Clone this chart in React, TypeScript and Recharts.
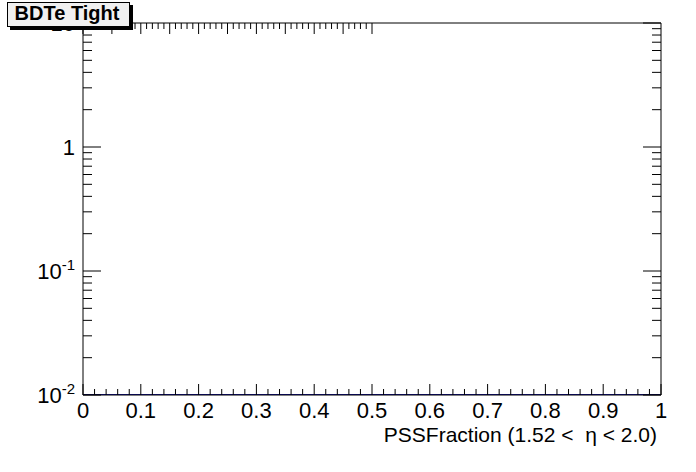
import { Line, LineChart, XAxis, YAxis } from "recharts";

// ROOT-style empty histogram: log y, x in [0, 1]
const binEdges = [0, 0.5, 1];
const binContents = [0.01, 0.01, 0.01]; // empty bins drawn at the log-axis floor

const xMajorTicks = [0, 0.1, 0.2, 0.3, 0.4, 0.5, 0.6, 0.7, 0.8, 0.9, 1];
const xMinorTicks = [
  0.02, 0.04, 0.06, 0.08, 0.12, 0.14, 0.16, 0.18, 0.22, 0.24, 0.26, 0.28,
  0.32, 0.34, 0.36, 0.38, 0.42, 0.44, 0.46, 0.48, 0.52, 0.54, 0.56, 0.58,
  0.62, 0.64, 0.66, 0.68, 0.72, 0.74, 0.76, 0.78, 0.82, 0.84, 0.86, 0.88,
  0.92, 0.94, 0.96, 0.98,
];
const yMajorTicks = [0.01, 0.1, 1, 10];
const yMinorTicks = [
  0.02, 0.03, 0.04, 0.05, 0.06, 0.07, 0.08, 0.09, 0.2, 0.3, 0.4, 0.5, 0.6,
  0.7, 0.8, 0.9, 2, 3, 4, 5, 6, 7, 8, 9,
];
const yLabels: Record<string, [string, string]> = {
  "0.01": ["10", "-2"],
  "0.1": ["10", "-1"],
  "1": ["1", ""],
  "10": ["10", ""],
};

const TITLE = "BDTe Tight";
const X_TITLE = "PSSFraction (1.52 <  \u03b7 < 2.0)";

const FONT = "'Liberation Sans', Arial, Helvetica, sans-serif";
const HIST_COLOR = "#10109a";

const W = 696;
const H = 472;
// axes are 1px thick, so the frame ends up at 83..661 x 23..395
const M = { top: 22, right: 34, bottom: 76, left: 82 };

const domainX: [number, number] = [0, 1];
const domainY: [number, number] = [0.01, 10];

const xTicks = [...xMajorTicks, ...xMinorTicks].sort((a, b) => a - b);
const yTicks = [...yMajorTicks, ...yMinorTicks].sort((a, b) => a - b);
const isMajorX = (v: number) => xMajorTicks.includes(v);
const isMajorY = (v: number) => yMajorTicks.includes(v);

// tick renderers: ticks point into the frame, ROOT style
const bottomTick = (p: any) => {
  const major = isMajorX(p.payload.value);
  return (
    <g>
      <line x1={p.x} x2={p.x} y1={p.y} y2={p.y - (major ? 11 : 6)} stroke="#000" />
      {major && (
        <text
          x={p.x}
          y={p.y + 23}
          textAnchor="middle"
          fontFamily={FONT}
          fontSize={22}
          fill="#000"
        >
          {p.payload.value}
        </text>
      )}
    </g>
  );
};

const topTick = (p: any) => {
  const major = isMajorX(p.payload.value);
  return <line x1={p.x} x2={p.x} y1={p.y} y2={p.y + (major ? 11 : 6)} stroke="#000" />;
};

const leftTick = (p: any) => {
  const major = isMajorY(p.payload.value);
  const lab = yLabels[String(p.payload.value)];
  return (
    <g>
      <line x1={p.x} x2={p.x + (major ? 18 : 9)} y1={p.y} y2={p.y} stroke="#000" />
      {major && lab && (
        <text
          x={p.x - 8}
          y={p.y + 8}
          textAnchor="end"
          fontFamily={FONT}
          fontSize={22}
          fill="#000"
        >
          {lab[0]}
          {lab[1] && (
            <tspan dy={-9} fontSize={15}>
              {lab[1]}
            </tspan>
          )}
        </text>
      )}
    </g>
  );
};

const rightTick = (p: any) => {
  const major = isMajorY(p.payload.value);
  return <line x1={p.x} x2={p.x - (major ? 18 : 9)} y1={p.y} y2={p.y} stroke="#000" />;
};

export default function App() {
  const data = binEdges.map((x, i) => ({ x, y: binContents[i] }));

  return (
    <div style={{ position: "absolute", left: 0, top: 0, width: W, height: H, background: "#fff" }}>
      <LineChart width={W} height={H} data={data} margin={M}>
        <XAxis
          xAxisId="bottom"
          dataKey="x"
          type="number"
          domain={domainX}
          ticks={xTicks}
          interval={0}
          height={1}
          tickSize={0}
          tickMargin={0}
          tickLine={false}
          stroke="#000"
          tick={bottomTick}
          allowDataOverflow
        />
        <XAxis
          xAxisId="top"
          orientation="top"
          type="number"
          domain={domainX}
          ticks={xTicks}
          interval={0}
          height={1}
          tickSize={0}
          tickMargin={0}
          tickLine={false}
          stroke="#000"
          tick={topTick}
          allowDataOverflow
        />
        <YAxis
          yAxisId="left"
          type="number"
          scale="log"
          domain={domainY}
          ticks={yTicks}
          interval={0}
          width={1}
          tickSize={0}
          tickMargin={0}
          tickLine={false}
          stroke="#000"
          tick={leftTick}
          allowDataOverflow
        />
        <YAxis
          yAxisId="right"
          orientation="right"
          type="number"
          scale="log"
          domain={domainY}
          ticks={yTicks}
          interval={0}
          width={1}
          tickSize={0}
          tickMargin={0}
          tickLine={false}
          stroke="#000"
          tick={rightTick}
          allowDataOverflow
        />
        <Line
          xAxisId="bottom"
          yAxisId="left"
          type="stepAfter"
          dataKey="y"
          stroke={HIST_COLOR}
          strokeWidth={2}
          dot={false}
          isAnimationActive={false}
        />
      </LineChart>

      <div
        style={{
          position: "absolute",
          right: W - 657,
          top: 424,
          fontFamily: FONT,
          fontSize: 21,
          whiteSpace: "pre",
          lineHeight: "21px",
          color: "#000",
        }}
      >
        {X_TITLE}
      </div>

      <svg
        width={140}
        height={34}
        style={{ position: "absolute", left: 0, top: 0 }}
      >
        <rect x={10} y={5} width={123} height={25} fill="#000" />
        <rect x={7.5} y={2.5} width={122} height={24} fill="#f0f0f0" stroke="#000" />
        <text
          x={67}
          y={20}
          textAnchor="middle"
          fontFamily={FONT}
          fontWeight="bold"
          fontSize={20}
          fill="#000"
        >
          {TITLE}
        </text>
      </svg>
    </div>
  );
}
